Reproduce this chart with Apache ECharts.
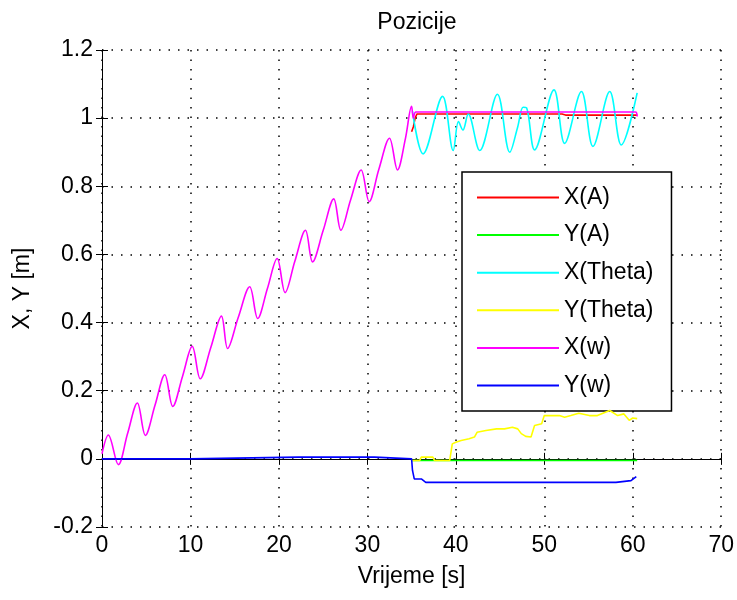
<!DOCTYPE html>
<html>
<head>
<meta charset="utf-8">
<title>Pozicije</title>
<script src="https://cdn.jsdelivr.net/npm/echarts@6/dist/echarts.min.js"></script>
<style>
  html, body { margin: 0; padding: 0; background: #fff; }
  #chart { width: 737px; height: 600px; }
</style>
</head>
<body>
<div id="chart"></div>
<script>
// tick labels
const xTickLabels = ['0', '10', '20', '30', '40', '50', '60', '70'];
const yTickLabels = ['-0.2', '0', '0.2', '0.4', '0.6', '0.8', '1', '1.2'];
const seriesNames = ['X(A)', 'Y(A)', 'X(Theta)', 'Y(Theta)', 'X(w)', 'Y(w)'];

// X(A) - red
const xaT = [35.0, 35.2, 35.4, 35.6, 52.0, 52.4, 60.5];
const xaV = [0.96, 0.975, 1.0, 1.012, 1.012, 1.009, 1.009];

// Y(A) - green
const yaT = [35.0, 60.5];
const yaV = [-0.005, -0.005];

// X(Theta) - cyan
const xthT = [35.1, 36.3, 38.5, 39.7, 40.3, 40.8, 41.4, 42.7, 44.7, 46.1, 47.0, 47.6, 48.0, 48.9, 51.1, 52.3, 54.2, 55.5, 57.4, 58.7, 60.5];
const xthV = [1.02, 0.895, 1.064, 0.905, 0.99, 0.965, 1.012, 0.905, 1.07, 0.9, 0.975, 1.032, 1.03, 0.907, 1.083, 0.926, 1.078, 0.917, 1.078, 0.921, 1.074];

// Y(Theta) - yellow
const ythT = [35.0, 35.9, 36.1, 37.4, 37.6, 39.3, 39.6, 40.0, 40.6, 41.5, 42.1, 42.4, 43.4, 44.6, 45.5, 46.4, 47.0, 47.4, 47.9, 48.5, 48.9, 49.7, 50.0, 51.7, 52.3, 53.0, 53.9, 55.1, 56.0, 57.4, 58.3, 59.0, 59.6, 60.0, 60.5];
const ythV = [-0.005, -0.005, 0.005, 0.005, -0.005, -0.005, 0.044, 0.049, 0.054, 0.059, 0.064, 0.078, 0.083, 0.088, 0.088, 0.093, 0.088, 0.074, 0.066, 0.064, 0.098, 0.103, 0.127, 0.127, 0.122, 0.127, 0.134, 0.127, 0.127, 0.142, 0.127, 0.132, 0.113, 0.12, 0.118];

// X(w) - magenta
const xwT = [0, 0.72, 1.85, 2.9, 4.0, 4.9, 6.0, 7.1, 8.0, 9.1, 10.2, 11.1, 12.3, 13.5, 14.2, 15.4, 16.7, 17.6, 18.7, 19.8, 20.7, 21.8, 23.0, 23.8, 25.0, 26.2, 27.0, 28.1, 29.3, 30.2, 31.3, 32.5, 33.4, 34.3, 35.0, 35.2, 35.5, 60.3, 60.5];
const xwV = [0.015, 0.07, -0.017, 0.075, 0.164, 0.069, 0.158, 0.247, 0.154, 0.242, 0.33, 0.235, 0.327, 0.419, 0.324, 0.415, 0.505, 0.412, 0.5, 0.588, 0.488, 0.58, 0.671, 0.578, 0.67, 0.763, 0.671, 0.76, 0.848, 0.755, 0.85, 0.941, 0.848, 0.94, 1.035, 1.0, 1.018, 1.018, 1.005];

// Y(w) - blue
const ywT = [0, 10.0, 10.1, 22.2, 22.4, 22.6, 25.5, 25.7, 25.9, 28.1, 28.3, 28.5, 30.2, 30.4, 30.8, 31.0, 35.0, 35.1, 35.3, 36.1, 36.3, 36.6, 58.1, 58.3, 59.8, 60.4];
const ywV = [0, 0, 0.005, 0.005, 0.0, 0.005, 0.005, 0.0, 0.005, 0.005, 0.0, 0.005, 0.005, 0.0, 0.005, 0.0, 0.0, -0.034, -0.059, -0.059, -0.064, -0.069, -0.069, -0.064, -0.064, -0.052];

const colors = ['#ff0000', '#00ff00', '#00ffff', '#ffff00', '#ff00ff', '#0000ff'];
const times = [xaT, yaT, xthT, ythT, xwT, ywT];
const values = [xaV, yaV, xthV, ythV, xwV, ywV];

function pairs(t, v) {
  return t.map((x, i) => [x, v[i]]);
}

const font = 'Liberation Sans, Arial, sans-serif';
const fontSize = 23;

const chart = echarts.init(document.getElementById('chart'), null, { renderer: 'canvas' });

const boxAxisLine = { show: true, lineStyle: { color: '#000', width: 1 } };
const tick = { show: true, inside: true, length: 6, lineStyle: { color: '#000', width: 1 } };
const gridDots = { show: true, lineStyle: { color: '#000', width: 1.5, type: [1.5, 8] } };

chart.setOption({
  animation: false,
  backgroundColor: '#fff',
  title: {
    text: 'Pozicije',
    left: 412,
    textAlign: 'center',
    top: 6,
    textStyle: { fontFamily: font, fontSize: fontSize, fontWeight: 'normal', color: '#000' }
  },
  legend: {
    orient: 'vertical',
    left: 462,
    top: 172,
    padding: [14, 18, 14, 15],
    itemWidth: 82,
    itemHeight: 2,
    itemGap: 14.6,
    icon: 'rect',
    backgroundColor: '#fff',
    borderColor: '#000',
    borderWidth: 1.5,
    borderRadius: 0,
    data: seriesNames,
    textStyle: { fontFamily: font, fontSize: fontSize, color: '#000' }
  },
  grid: { left: 102, top: 50, right: 15, bottom: 73 },
  xAxis: [
    {
      type: 'value',
      min: 0, max: 70, interval: 10,
      name: 'Vrijeme [s]',
      nameLocation: 'middle',
      nameGap: 38,
      nameTextStyle: { fontFamily: font, fontSize: fontSize, color: '#000' },
      axisLine: boxAxisLine,
      axisTick: tick,
      axisLabel: {
        fontFamily: font, fontSize: fontSize, color: '#000', margin: 7,
        formatter: (v, i) => xTickLabels[i]
      },
      splitLine: gridDots
    },
    {
      type: 'value', position: 'top',
      min: 0, max: 70, interval: 10,
      axisLine: boxAxisLine,
      axisTick: tick,
      axisLabel: { show: false },
      splitLine: { show: false }
    }
  ],
  yAxis: [
    {
      type: 'value',
      min: -0.2, max: 1.2, interval: 0.2,
      name: 'X, Y [m]',
      nameLocation: 'middle',
      nameGap: 68,
      nameTextStyle: { fontFamily: font, fontSize: fontSize, color: '#000' },
      axisLine: boxAxisLine,
      axisTick: tick,
      axisLabel: {
        fontFamily: font, fontSize: fontSize, color: '#000', margin: 9,
        formatter: (v, i) => yTickLabels[i]
      },
      splitLine: gridDots
    },
    {
      type: 'value', position: 'right',
      min: -0.2, max: 1.2, interval: 0.2,
      axisLine: boxAxisLine,
      axisTick: tick,
      axisLabel: { show: false },
      splitLine: { show: false }
    }
  ],
  series: seriesNames.map((name, k) => ({
    name: name,
    type: 'line',
    data: pairs(times[k], values[k]),
    color: colors[k],
    showSymbol: false,
    symbol: 'none',
    smooth: k === 4 || k === 2 ? 0.35 : false,
    lineStyle: { color: colors[k], width: 1.6 },
    z: 2 + k
  }))
});
</script>
</body>
</html>
